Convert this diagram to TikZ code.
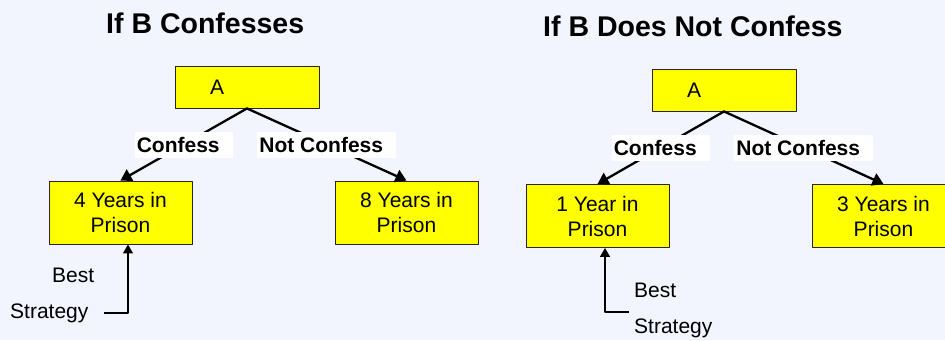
\documentclass[tikz,border=0pt]{standalone}
\usepackage{fontspec}
\setmainfont{Liberation Sans}
\usetikzlibrary{arrows.meta}
\definecolor{bgpale}{HTML}{F2F4FE}
\definecolor{boxyellow}{HTML}{FFFF00}

\begin{document}
\begin{tikzpicture}[x=1pt,y=-1pt,line cap=round,line join=round,
  bodyfont/.style={font=\fontsize{21}{25}\selectfont},
  titlefont/.style={font=\bfseries\fontsize{28.5}{34}\selectfont},
  abox/.style={draw=black!85,fill=boxyellow,line width=0.9pt,text width=74pt,inner xsep=35pt,minimum height=42pt,align=left,bodyfont},
  yrbox/.style={draw=black!85,fill=boxyellow,line width=0.9pt,minimum width=143pt,minimum height=63pt,align=center,bodyfont},
  choice/.style={fill=white,inner xsep=2pt,minimum height=26pt,font=\bfseries\fontsize{21}{25}\selectfont,execute at end node=\hspace*{11pt}},
  branch/.style={line width=2.3pt,-{Triangle[length=11pt,width=13pt]}},
  hint/.style={line width=1.5pt,line cap=butt,-{Triangle[length=9pt,width=10pt]}},
  note/.style={anchor=base west,bodyfont,inner sep=0pt}]
  \fill[bgpale] (0,0) rectangle (945,340);
  \clip (0,0) rectangle (945,340);
  % left: B confesses
  \node[titlefont,anchor=base west,inner sep=0pt] (title1) at (106,33) {If B Confesses};
  \node[abox] (a1) at (247,87) {A};
  \node[yrbox] (yr4) at (120.5,212.5) {4 Years in\\Prison};
  \node[yrbox] (yr8) at (406.5,212.5) {8 Years in\\Prison};
  \draw[branch] (a1.south) -- node[choice] {Confess} (yr4.north);
  \draw[branch] (a1.south) -- node[choice] {Not Confess} (yr8.north);
  \node[note] (best1) at (52,282) {Best};
  \node[note] (strat1) at (10,318) {Strategy};
  \coordinate (hint1) at (104,313);
  \draw[hint] (hint1) -| ([xshift=7.5pt]yr4.south);
  % right: B does not confess
  \node[titlefont,anchor=base west,inner sep=0pt] (title2) at (543,36) {If B Does Not Confess};
  \node[abox] (a2) at (724,90) {A};
  \node[yrbox] (yr1) at (597.5,216) {1 Year in\\Prison};
  \node[yrbox] (yr3) at (883.5,216) {3 Years in\\Prison};
  \draw[branch] (a2.south) -- node[choice] {Confess} (yr1.north);
  \draw[branch] (a2.south) -- node[choice] {Not Confess} (yr3.north);
  \node[note] (best2) at (634,297) {Best};
  \node[note] (strat2) at (634,333) {Strategy};
  \coordinate (hint2) at (629,312);
  \draw[hint] (hint2) -| ([xshift=7.5pt]yr1.south);
\end{tikzpicture}
\end{document}
